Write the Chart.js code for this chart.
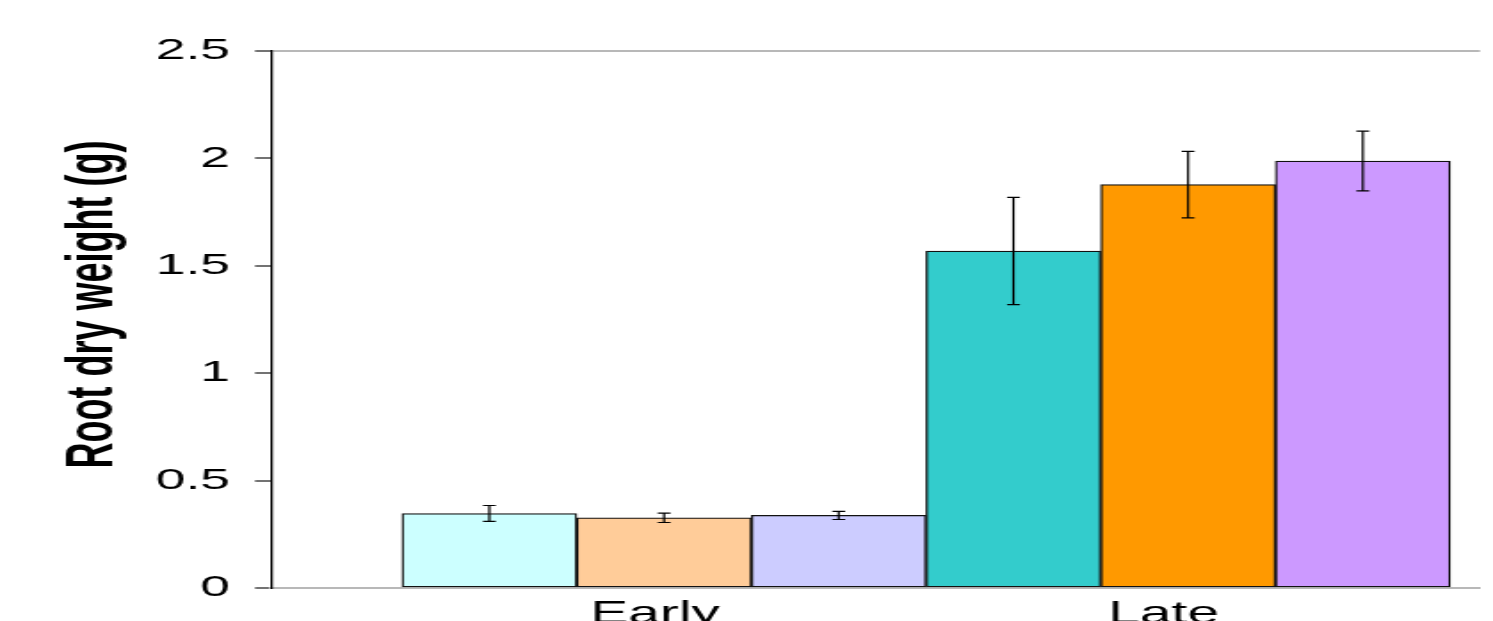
<!DOCTYPE html>
<html>
<head>
<meta charset="utf-8">
<script src="https://cdn.jsdelivr.net/npm/chart.js@4/dist/chart.umd.min.js"></script>
<style>
  html, body { margin: 0; padding: 0; background: #fff; overflow: hidden; }
  /* the reference is drawn narrow and stretched sideways */
  #wrap { width: 839px; height: 621px; transform: scaleX(1.7795); transform-origin: 0 0; }
</style>
</head>
<body>
<div id="wrap"><canvas id="mycanvas"></canvas></div>
<script>
var categories = ['Early', 'Late'];
var catPos = [1, 2];
var labelPos = [0.983, 1.953];

var series1 = [0.347, 1.569];
var series2 = [0.327, 1.878];
var series3 = [0.338, 1.988];

var err1 = [0.037, 0.25];
var err2 = [0.022, 0.155];
var err3 = [0.019, 0.139];

var yTicks = [0, 0.5, 1, 1.5, 2, 2.5];

function points(vals) {
    return vals.map(function (v, i) { return {x: catPos[i], y: v}; });
}

var errorBars = {
    id: 'errorBars',
    afterDatasetsDraw: function (chart) {
        var ctx = chart.ctx;
        var yScale = chart.scales.y;
        ctx.save();
        ctx.strokeStyle = '#000';
        ctx.lineWidth = 1.2;
        chart.data.datasets.forEach(function (ds, di) {
            var meta = chart.getDatasetMeta(di);
            meta.data.forEach(function (bar, i) {
                var v = ds.data[i].y, e = ds.errors[i];
                var top = yScale.getPixelForValue(v + e);
                var bot = yScale.getPixelForValue(v - e);
                var x = bar.x, w = 3.6;
                ctx.beginPath();
                ctx.moveTo(x, top); ctx.lineTo(x, bot);
                ctx.moveTo(x - w, top); ctx.lineTo(x + w, top);
                ctx.moveTo(x - w, bot); ctx.lineTo(x + w, bot);
                ctx.stroke();
            });
        });
        ctx.restore();
    }
};

var chartdata = {
    datasets: [{
        label: 'Series 1',
        data: points(series1),
        errors: err1,
        backgroundColor: ['#CCFFFF', '#33CCCC']
    }, {
        label: 'Series 2',
        data: points(series2),
        errors: err2,
        backgroundColor: ['#FFCC99', '#FF9900']
    }, {
        label: 'Series 3',
        data: points(series3),
        errors: err3,
        backgroundColor: ['#CCCCFF', '#CC99FF']
    }]
};
chartdata.datasets.forEach(function (ds) {
    ds.borderColor = '#111';
    ds.borderWidth = 1.3;
    ds.borderSkipped = false;
    ds.categoryPercentage = 1;
    ds.barPercentage = 1;
});

var ctx = document.getElementById('mycanvas');
var barGraph = new Chart(ctx, {
    type: 'bar',
    data: chartdata,
    plugins: [errorBars],
    options: {
        responsive: true,
        maintainAspectRatio: false,
        animation: false,
        layout: { padding: { top: 51, right: 7.3, left: 0, bottom: 0 } },
        plugins: { legend: { display: false }, tooltip: { enabled: false } },
        scales: {
            x: {
                type: 'linear',
                display: false,
                offset: false,
                grid: { offset: false },
                min: 0.25,
                max: 2.557,
                afterBuildTicks: function (scale) {
                    scale.ticks = catPos.map(function (p) { return {value: p}; });
                }
            },
            xl: {
                type: 'linear',
                position: 'bottom',
                offset: false,
                min: 0.25,
                max: 2.557,
                afterBuildTicks: function (scale) {
                    scale.ticks = labelPos.map(function (p) { return {value: p}; });
                },
                afterFit: function (scale) { scale.height = 33; },
                grid: { offset: false, drawOnChartArea: false, drawTicks: false },
                border: { display: true, color: '#b8b8b8', width: 2 },
                ticks: {
                    autoSkip: false,
                    maxRotation: 0,
                    padding: 7,
                    color: '#000',
                    font: { family: 'Liberation Sans', size: 32 },
                    callback: function (value, index) { return categories[index]; }
                }
            },
            y: {
                min: 0,
                max: 2.5,
                afterBuildTicks: function (scale) {
                    scale.ticks = yTicks.map(function (t) { return {value: t}; });
                },
                afterFit: function (scale) { scale.width = 152.3; },
                border: { display: true, color: '#000', width: 1.3 },
                grid: {
                    drawOnChartArea: true,
                    drawTicks: true,
                    tickLength: 9,
                    tickColor: '#444',
                    tickWidth: 1.5,
                    lineWidth: 2,
                    color: function (c) {
                        return c.tick && c.tick.value === 2.5 ? '#b8b8b8' : 'rgba(0,0,0,0)';
                    }
                },
                ticks: {
                    padding: 14,
                    color: '#000',
                    font: { family: 'Liberation Sans', size: 30 },
                    callback: function (value) { return String(value); }
                },
                title: {
                    display: true,
                    text: '\u00a0\u00a0\u00a0Root dry weight (g)',
                    color: '#000',
                    padding: { top: 31, bottom: 0 },
                    font: { family: 'Liberation Sans', size: 36, weight: 'bold' }
                }
            }
        }
    }
});
</script>
</body>
</html>
